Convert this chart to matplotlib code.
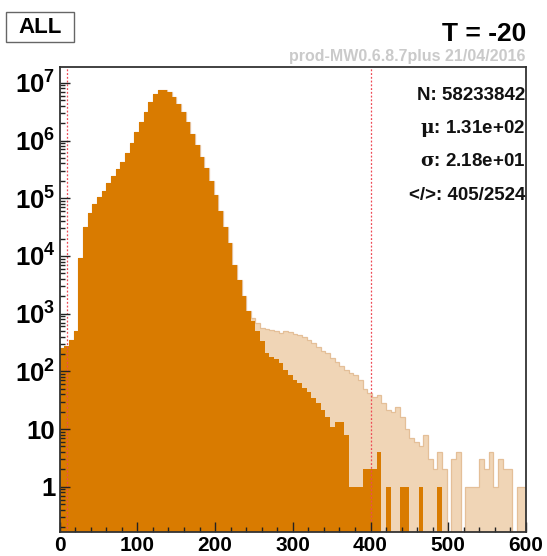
import numpy as np
import matplotlib
matplotlib.use("Agg")
import matplotlib.pyplot as plt
from matplotlib.patches import Rectangle
from matplotlib.ticker import FixedLocator, FixedFormatter, LogLocator, NullFormatter, MultipleLocator

plt.rcParams['font.family'] = ['Liberation Sans', 'DejaVu Sans']
plt.rcParams['font.weight'] = 'bold'
plt.rcParams['mathtext.fontset'] = 'custom'
plt.rcParams['mathtext.rm'] = 'DejaVu Serif'
plt.rcParams['mathtext.bf'] = 'Liberation Sans:bold'

# 100 bins of width 6 between 0 and 600
edges = np.linspace(0, 600, 101)

# selected events (dark)
counts_sel = [
    250, 280, 355, 500, 9100, 31600, 56000, 79000, 105000, 135000,
    186000, 245000, 316000, 427000, 603000, 912000, 1380000, 2090000, 3160000, 4680000,
    6310000, 7410000, 7590000, 6920000, 5620000, 4370000, 3160000, 2090000, 1320000, 832000,
    525000, 339000, 200000, 112000, 60000, 31600, 16600, 7000, 3800, 2000,
    1120, 760, 500, 330, 210, 178, 162, 138, 107, 87,
    72, 62, 51, 43, 34, 28, 21, 16, 11, 13,
    13, 8, 1, 1, 1, 2, 2, 2, 4, 0,
    1, 0, 0, 1, 1, 0, 0, 1, 0, 0,
    0, 1, 0, 0, 0, 0, 0, 0, 0, 0,
    0, 0, 0, 0, 0, 0, 0, 0, 0, 0,
]

# all events (light), only differs from the selection above bin 41
tail_start = 41
counts_all_tail = [
    830, 676, 562, 537, 525, 501, 468, 501, 479, 447,
    427, 389, 355, 316, 269, 229, 204, 170, 145, 123,
    107, 95, 85, 71, 50, 42, 36, 39, 28, 21,
    20, 24, 16, 10, 7, 6, 5, 8, 3, 2,
    4, 2, 0, 3, 4, 0, 1, 1, 1, 3,
    2, 4, 1, 3, 2, 2, 0, 1, 1,
]
counts_all = counts_sel[:tail_start] + counts_all_tail

cut_lo, cut_hi = 9, 400

stats = ["N: 58233842", r"$\mathrm{\mu}$: 1.31e+02", r"$\mathrm{\sigma}$: 2.18e+01", "</>: 405/2524"]

dark = '#D97B00'
light = '#F0D5B6'

fig = plt.figure(figsize=(5.47, 5.56), dpi=100)
ax = fig.add_axes([0.109, 0.044, 0.8526, 0.836])
ax.set_yscale('log')
ax.set_axisbelow(False)

floor = 1e-3
ax.stairs(np.maximum(counts_all, floor), edges, fill=True, color=light, baseline=floor, zorder=1)
ax.stairs(np.maximum(counts_all, floor), edges, fill=False, color='#E4BF98', lw=0.9, baseline=floor, zorder=1.5)
ax.stairs(np.maximum(counts_sel, floor), edges, fill=True, color=dark, baseline=floor, zorder=2)

for xc in (cut_lo, cut_hi):
    ax.axvline(xc, color='#EE4A55', lw=0.9, ls=(0, (1.5, 1.5)), zorder=2.2)

ax.set_xlim(0, 600)
ax.set_ylim(0.1675, 1.9e7)

# ticks: inside, left and bottom only
ax.xaxis.set_major_locator(MultipleLocator(100))
ax.xaxis.set_minor_locator(MultipleLocator(20))
ax.yaxis.set_major_locator(FixedLocator([10.0 ** k for k in range(8)]))
ylabels = ['1', '10'] + [r'$\mathbf{10^{%d}}$' % k for k in range(2, 8)]
ax.yaxis.set_major_formatter(FixedFormatter(ylabels))
ax.yaxis.set_minor_locator(LogLocator(base=10, subs=np.arange(2, 10), numticks=20))
ax.yaxis.set_minor_formatter(NullFormatter())
ax.tick_params(which='both', direction='in', top=False, right=False, width=1.0, color='#222222')
ax.tick_params(which='major', length=7)
ax.tick_params(which='minor', length=3.5)
ax.tick_params(axis='x', pad=3, labelsize=15)
ax.tick_params(axis='y', pad=3, labelsize=18.5)
for lab in ax.get_xticklabels() + ax.get_yticklabels():
    lab.set_fontweight('bold')
for sp in ax.spines.values():
    sp.set_color('#333333')
    sp.set_linewidth(1.3)
    sp.set_zorder(5)

# statistics block
for k, s in enumerate(stats):
    ax.text(0.998, 0.939 - k * 0.0717, s, transform=ax.transAxes, ha='right', va='center',
            fontsize=13.5, fontweight='bold', color='#111111', zorder=6)

# label box in the top left corner
fig.patches.append(Rectangle((0.011, 0.9245), 0.124, 0.054, transform=fig.transFigure,
                             fc='white', ec='#666666', lw=1.0))
fig.text(0.073, 0.951, "ALL", fontsize=16, fontweight='bold', ha='center', va='center')
fig.text(0.9616, 0.938, "T = -20", fontsize=19, fontweight='bold', ha='right', va='center')
fig.text(0.9616, 0.899, "prod-MW0.6.8.7plus 21/04/2016", fontsize=11.5, fontweight='bold',
         ha='right', va='center', color='#CACACA')

fig.savefig('out.png', dpi=100)
